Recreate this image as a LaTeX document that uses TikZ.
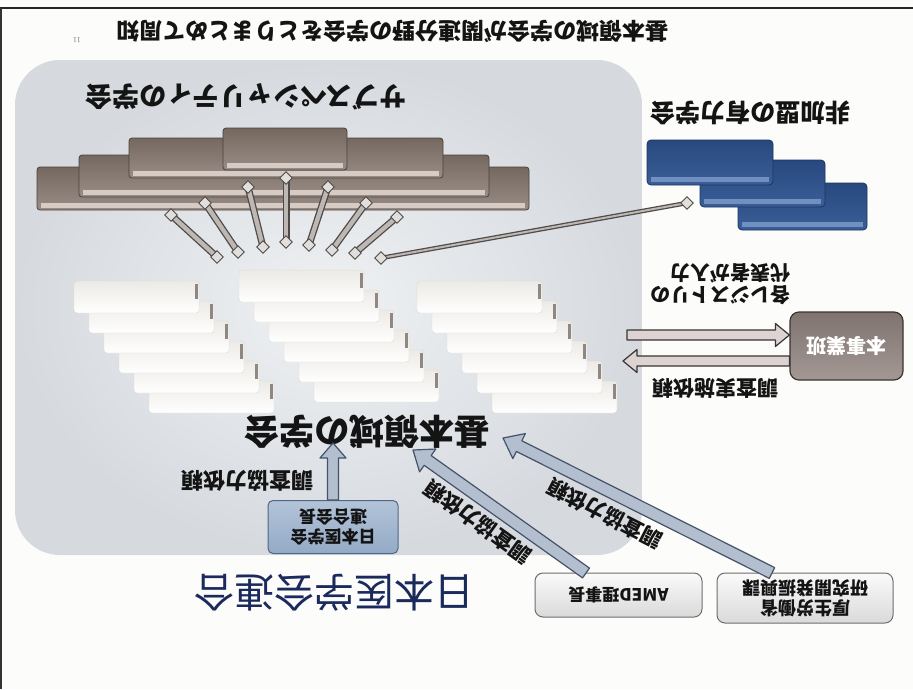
\documentclass[tikz,border=0pt]{standalone}
\usepackage{fontspec}
\setmainfont{Noto Sans CJK JP}
\newfontfamily\numfont{Liberation Serif}
\usetikzlibrary{shapes.geometric}
\definecolor{pagebg}{HTML}{FCFCFA}
\definecolor{panelin}{HTML}{EFF1F3}
\definecolor{panelout}{HTML}{D6DADF}
\definecolor{brownA}{HTML}{74685F}
\definecolor{brownB}{HTML}{998D86}
\definecolor{brownE}{HTML}{4B413C}
\definecolor{brownL}{HTML}{D6CCC5}
\definecolor{blueA}{HTML}{28497F}
\definecolor{blueB}{HTML}{3A5E98}
\definecolor{blueE}{HTML}{1C3461}
\definecolor{blueL}{HTML}{7190C0}
\definecolor{wbA}{HTML}{ECEAE5}
\definecolor{wbB}{HTML}{FFFFFF}
\definecolor{wbE}{HTML}{DDDAD4}
\definecolor{wbS}{HTML}{8E8782}
\definecolor{spkE}{HTML}{4F4A47}
\definecolor{spkI}{HTML}{BDB8B4}
\definecolor{arrF}{HTML}{B3BFCE}
\definecolor{arrE}{HTML}{45536A}
\definecolor{harrF}{HTML}{DDD3D2}
\definecolor{harrE}{HTML}{3A3434}
\definecolor{navy}{HTML}{1B2A5C}
\definecolor{jmsfA}{HTML}{93AAC6}
\definecolor{jmsfB}{HTML}{B3C4D8}
\definecolor{jmsfE}{HTML}{4F6684}
\definecolor{honA}{HTML}{7E736E}
\definecolor{honB}{HTML}{A39893}
\definecolor{honE}{HTML}{3B3430}
\definecolor{gbA}{HTML}{FAFAFA}
\definecolor{gbB}{HTML}{DADADA}
\definecolor{gbE}{HTML}{6E6E6E}
\definecolor{ink}{HTML}{141414}
\newcommand\setfs[1]{\fontsize{#1}{#1}\selectfont}
\newcommand\fatarrow[6][]{%
  \pgfmathanglebetweenpoints{\pgfpointanchor{#2}{center}}{\pgfpointanchor{#3}{center}}%
  \edef\FAang{\pgfmathresult}%
  \pgfpointdiff{\pgfpointanchor{#2}{center}}{\pgfpointanchor{#3}{center}}%
  \pgfgetlastxy{\FAdx}{\FAdy}%
  \pgfmathsetmacro\FAlen{veclen(\FAdx,\FAdy)}%
  \begin{scope}[shift={(#2)}, rotate=\FAang, x=1pt, y=1pt]
    \filldraw[#1] (0,{-#4}) -- ({\FAlen-#6},{-#4}) -- ({\FAlen-#6},{-#5}) -- (\FAlen,0)
      -- ({\FAlen-#6},#5) -- ({\FAlen-#6},#4) -- (0,#4) -- cycle;
  \end{scope}}
\tikzset{
  lbl/.style={rotate=180, inner sep=0pt, text=ink},
  rlbl/.style={inner sep=0pt, text=ink},
  brownbox/.style={draw=brownE, line width=0.8pt, rounded corners=3pt, top color=brownA, bottom color=brownB},
  bluebox/.style={draw=blueE, line width=0.8pt, rounded corners=4pt, top color=blueA, bottom color=blueB},
  whitebox/.style={draw=wbE, line width=0.4pt, rounded corners=3pt, top color=wbA, bottom color=wbB},
  spokeout/.style={line width=7pt, draw=spkE},
  spokein/.style={line width=4.4pt, draw=spkI},
  diam/.style={diamond, draw=spkE, fill=spkI!45!white, inner sep=0pt, minimum size=13pt, line width=0.9pt},
  fatarr/.style={fill=arrF, draw=arrE, line width=1.2pt, line join=round},
  harr/.style={fill=harrF, draw=harrE, line width=1.2pt, line join=round},
  jmsfbox/.style={draw=jmsfE, line width=1pt, rounded corners=5pt, top color=jmsfB, bottom color=jmsfA, inner sep=0pt},
  honbox/.style={draw=honE, line width=1.2pt, rounded corners=9pt, top color=honA, bottom color=honB, inner sep=0pt},
  greybox/.style={draw=gbE, line width=1pt, rounded corners=8pt, top color=gbA, bottom color=gbB, inner sep=0pt}
}
\begin{document}
\begin{tikzpicture}[x=1pt, y=-1pt]
\useasboundingbox (0,0) rectangle (913,689);
\fill[pagebg] (0,0) rectangle (913,689);
% frame lines
\draw[line width=2pt, black!85] (0,8) -- (913,8);
\draw[line width=1.5pt, black!80] (1,8) -- (1,689);
% panel
\shade[rounded corners=45pt, inner color=panelin, outer color=panelout] (15,60) rectangle (642,555);
% title texts
\node[lbl, font=\setfs{23}\bfseries] (title) at (392,31) {基本領域の学会が関連分野の学会をとりまとめて周知};
\node[lbl, font=\numfont\setfs{8}, text=gray] (pgno) at (77,40) {11};
\node[lbl, font=\setfs{27}\bfseries] (subttl) at (246,97) {サブスペシャリティの学会};
\node[lbl, font=\setfs{25}\bfseries] (nonttl) at (750,113) {非加盟の有力学会};
% brown stacked boxes
\node[brownbox, minimum width=492pt, minimum height=43pt] (sub4) at (283,188.5) {};
\fill[brownL] (41,203) rectangle (525,208);
\node[brownbox, minimum width=410pt, minimum height=42pt] (sub3) at (284,176) {};
\fill[brownL] (83,190) rectangle (485,195);
\node[brownbox, minimum width=314pt, minimum height=40pt] (sub2) at (286,158) {};
\fill[brownL] (133,171) rectangle (439,176);
\node[brownbox, minimum width=124pt, minimum height=42pt] (sub1) at (285,149) {};
\fill[brownL] (227,163) rectangle (343,168);
% blue boxes
\node[bluebox, minimum width=129pt, minimum height=47pt] (nb3) at (802.5,206.5) {};
\fill[blueL] (742,222) rectangle (863,227);
\node[bluebox, minimum width=125pt, minimum height=47pt] (nb2) at (762.5,183.5) {};
\fill[blueL] (704,199) rectangle (821,204);
\node[bluebox, minimum width=126pt, minimum height=45pt] (nb1) at (710,162.5) {};
\fill[blueL] (651,177) rectangle (769,182);
% white stacked boxes
\foreach \gx/\gy in {239/270, 74/281, 417/281} {
  \foreach \i in {5,4,...,0} {
    \pgfmathsetmacro\bx{\gx+15*\i}
    \pgfmathsetmacro\by{\gy+20*\i}
    \path[whitebox] (\bx,\by) rectangle ++(125,32);
    \fill[wbS] ({\bx+121},{\by+3}) rectangle ++(3,15);
  }
}
% spokes
\foreach \k/\tx/\ty/\bx/\by in {1/171/215/217/257, 2/205/203/238/252, 3/248/187/263/247, 4/286/178/286/242, 5/328/187/309/245, 6/366/203/332/250, 7/397/217/355/253} {
  \coordinate (st\k) at (\tx,\ty);
  \coordinate (sb\k) at (\bx,\by);
  \draw[spokeout] (st\k) -- (sb\k);
  \draw[spokein] (st\k) -- (sb\k);
  \node[diam] (dt\k) at (st\k) {};
  \node[diam] (db\k) at (sb\k) {};
}
\coordinate (lt) at (687,203);
\coordinate (lb) at (381,258);
\draw[line width=4.5pt, draw=spkE] (lt) -- (lb);
\draw[line width=2pt, draw=spkI] (lt) -- (lb);
\node[diam] (dlt) at (lt) {};
\node[diam] (dlb) at (lb) {};
% kihon label
\node[lbl, font=\setfs{35}\bfseries] (kihon) at (367,432) {基本領域の学会};
% honjigyo box and arrows
\node[honbox, minimum width=113pt, minimum height=68pt] (hon) at (846.5,346) {};
\node[lbl, font=\setfs{20}\bfseries, text=white] (hont) at (hon) {本事業班};
\coordinate (har1) at (627,335);
\coordinate (har2) at (hon.west |- har1);
\coordinate (hal1) at (hon.west |- 0,361);
\coordinate (hal2) at (623,361);
\fatarrow[harr]{har1}{har2}{5}{11.5}{14}
\fatarrow[harr]{hal1}{hal2}{5}{11.5}{14}
\node[lbl, font=\setfs{20}\bfseries, align=left] (regi) at (720,284) {各レジストリの\\[2pt]代表者が入力};
\node[lbl, font=\setfs{21}\bfseries] (jisshi) at (715,388) {調査実施依頼};
% JAMS chair box and arrow
\node[jmsfbox, minimum width=130pt, minimum height=53pt] (jmsf) at (333,527) {};
\node[lbl, font=\setfs{17}\bfseries, align=center] (jmsft) at (jmsf) {日本医学会\\[3pt]連合会長};
\coordinate (va1) at (jmsf.north);
\coordinate (va2) at (333,443);
\fatarrow[fatarr]{va1}{va2}{5.5}{13}{15}
\node[lbl, font=\setfs{22}\bfseries] (lblv) at (247,481) {調査協力依頼};
\node[lbl, font=\setfs{40}, text=navy] (jmsfbig) at (334,593) {日本医学会連合};
% AMED and MHLW boxes
\node[greybox, minimum width=167pt, minimum height=44pt] (amed) at (618.5,595) {};
\node[lbl, font=\setfs{17}\bfseries] (amedt) at (amed) {AMED理事長};
\node[greybox, minimum width=176pt, minimum height=50pt] (mhlw) at (805,598) {};
\node[lbl, font=\setfs{18}\bfseries, align=center] (mhlwt) at (mhlw) {厚生労働省\\[2pt]研究開発振興課};
% diagonal arrows
\coordinate (d1s) at (586,573);
\coordinate (d1e) at (413,450);
\coordinate (d2s) at (772,573);
\coordinate (d2e) at (503,438);
\fatarrow[fatarr]{d1s}{d1e}{6}{14}{18}
\fatarrow[fatarr]{d2s}{d2e}{6}{14}{18}
\node[rlbl, font=\setfs{21}\bfseries, rotate=144.3] (lbl1) at (478,522) {調査協力依頼};
\node[rlbl, font=\setfs{21}\bfseries, rotate=152.8] (lbl2) at (605,514) {調査協力依頼};
\end{tikzpicture}
\end{document}
